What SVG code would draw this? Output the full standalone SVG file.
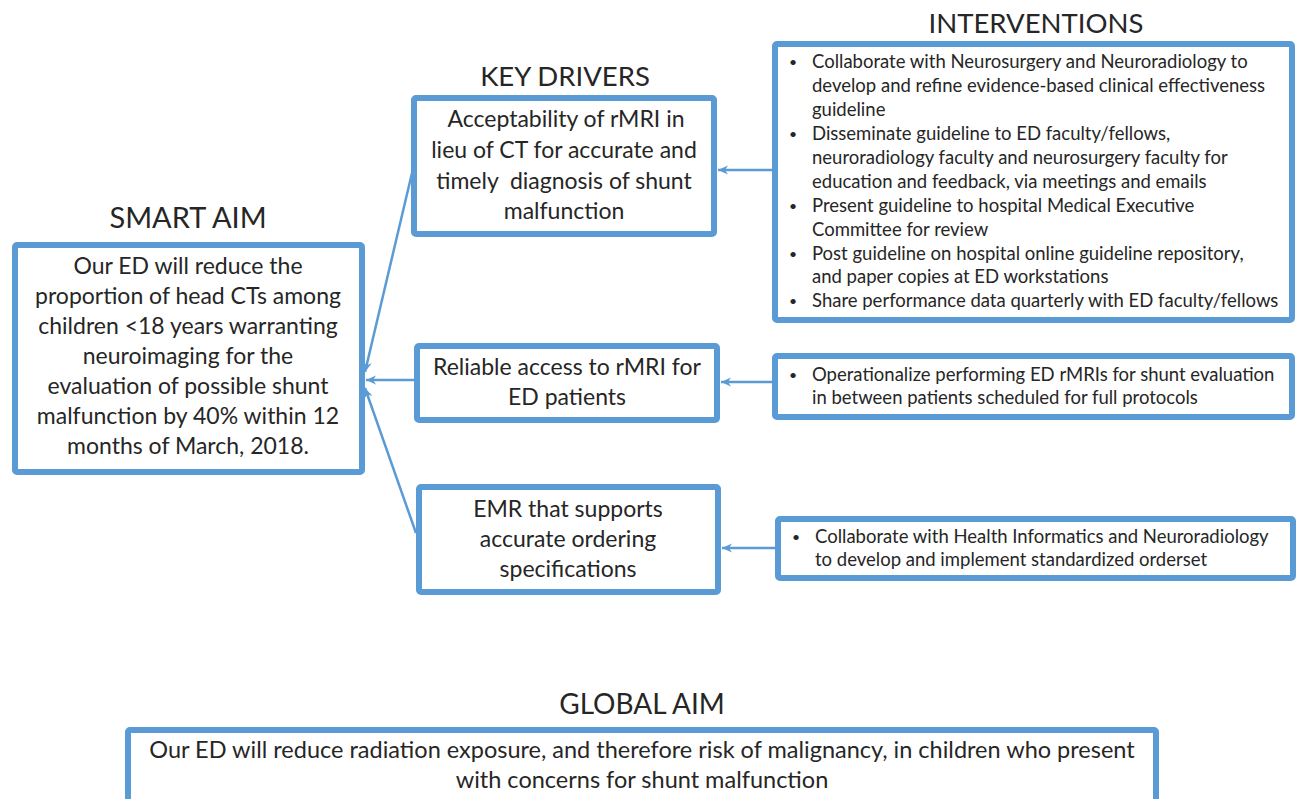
<svg xmlns="http://www.w3.org/2000/svg" width="1298" height="799" viewBox="0 0 1298 799">
<style>
  .box { fill: #ffffff; stroke: #5B9BD5; stroke-width: 6; }
  .con { stroke: #5B9BD5; stroke-width: 2.5; fill: none; marker-end: url(#ah); }
  text { font-family: Lato, "Open Sans", "Liberation Sans", sans-serif; fill: #262626; }
  .head { font-size: 28px; text-anchor: middle; }
  .big { font-size: 23px; text-anchor: middle; }
  .glob { font-size: 23.5px; text-anchor: middle; }
  .small { font-size: 18.5px; }
  .bul { font-size: 14px; }
</style>
<defs>
  <marker id="ah" viewBox="0 0 10 10" refX="10" refY="5" markerWidth="10" markerHeight="10" markerUnits="userSpaceOnUse" orient="auto">
    <path d="M0,0.5 L10,5 L0,9.5 L3,5 z" fill="#5B9BD5"/>
  </marker>
</defs>
<rect width="1298" height="799" fill="#ffffff"/>

<g id="connectors">
  <line class="con" x1="412" y1="173" x2="365" y2="372"/>
  <line class="con" x1="414" y1="380" x2="366" y2="380"/>
  <line class="con" x1="416" y1="533" x2="365" y2="388"/>
  <line class="con" x1="772" y1="170" x2="718" y2="170"/>
  <line class="con" x1="772" y1="382" x2="721" y2="382"/>
  <line class="con" x1="775" y1="548" x2="722" y2="548"/>
</g>

<g id="smart-aim">
  <text class="head" x="188" y="228" style="font-size:29px">SMART AIM</text>
  <rect class="box" x="15" y="245" width="347" height="227" rx="2"/>
  <text class="big" x="188" y="274">Our ED will reduce the</text>
  <text class="big" x="188" y="304">proportion of head CTs among</text>
  <text class="big" x="188" y="334">children &lt;18 years warranting</text>
  <text class="big" x="188" y="364">neuroimaging for the</text>
  <text class="big" x="188" y="394">evaluation of possible shunt</text>
  <text class="big" x="188" y="424">malfunction by 40% within 12</text>
  <text class="big" x="188" y="454">months of March, 2018.</text>
</g>

<g id="key-drivers-title">
  <text class="head" x="565" y="86" style="font-size:27.5px">KEY DRIVERS</text>
</g>

<g id="driver-1">
  <rect class="box" x="414" y="98" width="300" height="136" rx="2"/>
  <text class="big" x="566" y="127">Acceptability of rMRI in</text>
  <text class="big" x="564" y="158">lieu of CT for accurate and</text>
  <text class="big" x="564" y="189" xml:space="preserve">timely  diagnosis of shunt</text>
  <text class="big" x="564" y="219">malfunction</text>
</g>

<g id="driver-2">
  <rect class="box" x="417" y="346" width="300" height="74" rx="2"/>
  <text class="big" x="567" y="375">Reliable access to rMRI for</text>
  <text class="big" x="567" y="405">ED patients</text>
</g>

<g id="driver-3">
  <rect class="box" x="419" y="487" width="299" height="105" rx="2"/>
  <text class="big" x="568" y="517">EMR that supports</text>
  <text class="big" x="568" y="547">accurate ordering</text>
  <text class="big" x="568" y="577">specifications</text>
</g>

<g id="interventions-title">
  <text class="head" x="1036" y="33" style="font-size:27.5px">INTERVENTIONS</text>
</g>

<g id="intervention-1">
  <rect class="box" x="775" y="44" width="517" height="276" rx="2"/>
  <g class="bul">
    <text x="789" y="67">•</text>
    <text x="789" y="139">•</text>
    <text x="789" y="211">•</text>
    <text x="789" y="259">•</text>
    <text x="789" y="306">•</text>
  </g>
  <g class="small">
    <text x="812" y="68">Collaborate with Neurosurgery and Neuroradiology to</text>
    <text x="812" y="92">develop and refine evidence-based clinical effectiveness</text>
    <text x="812" y="116">guideline</text>
    <text x="812" y="140">Disseminate guideline to ED faculty/fellows,</text>
    <text x="812" y="164">neuroradiology faculty and neurosurgery faculty for</text>
    <text x="812" y="188">education and feedback, via meetings and emails</text>
    <text x="812" y="212">Present guideline to hospital Medical Executive</text>
    <text x="812" y="236">Committee for review</text>
    <text x="812" y="260">Post guideline on hospital online guideline repository,</text>
    <text x="812" y="283">and paper copies at ED workstations</text>
    <text x="812" y="307">Share performance data quarterly with ED faculty/fellows</text>
  </g>
</g>

<g id="intervention-2">
  <rect class="box" x="775" y="356" width="517" height="61" rx="2"/>
  <text class="bul" x="789" y="380">•</text>
  <g class="small">
    <text x="812" y="381">Operationalize performing ED rMRIs for shunt evaluation</text>
    <text x="812" y="404">in between patients scheduled for full protocols</text>
  </g>
</g>

<g id="intervention-3">
  <rect class="box" x="778" y="519" width="515" height="59" rx="2"/>
  <text class="bul" x="792" y="542">•</text>
  <g class="small">
    <text x="815" y="543">Collaborate with Health Informatics and Neuroradiology</text>
    <text x="815" y="566">to develop and implement standardized orderset</text>
  </g>
</g>

<g id="global-aim">
  <text class="head" x="642" y="714">GLOBAL AIM</text>
  <rect class="box" x="128" y="730" width="1028" height="90" rx="2"/>
  <text class="glob" x="642" y="758">Our ED will reduce radiation exposure, and therefore risk of malignancy, in children who present</text>
  <text class="glob" x="642" y="788">with concerns for shunt malfunction</text>
</g>
</svg>
